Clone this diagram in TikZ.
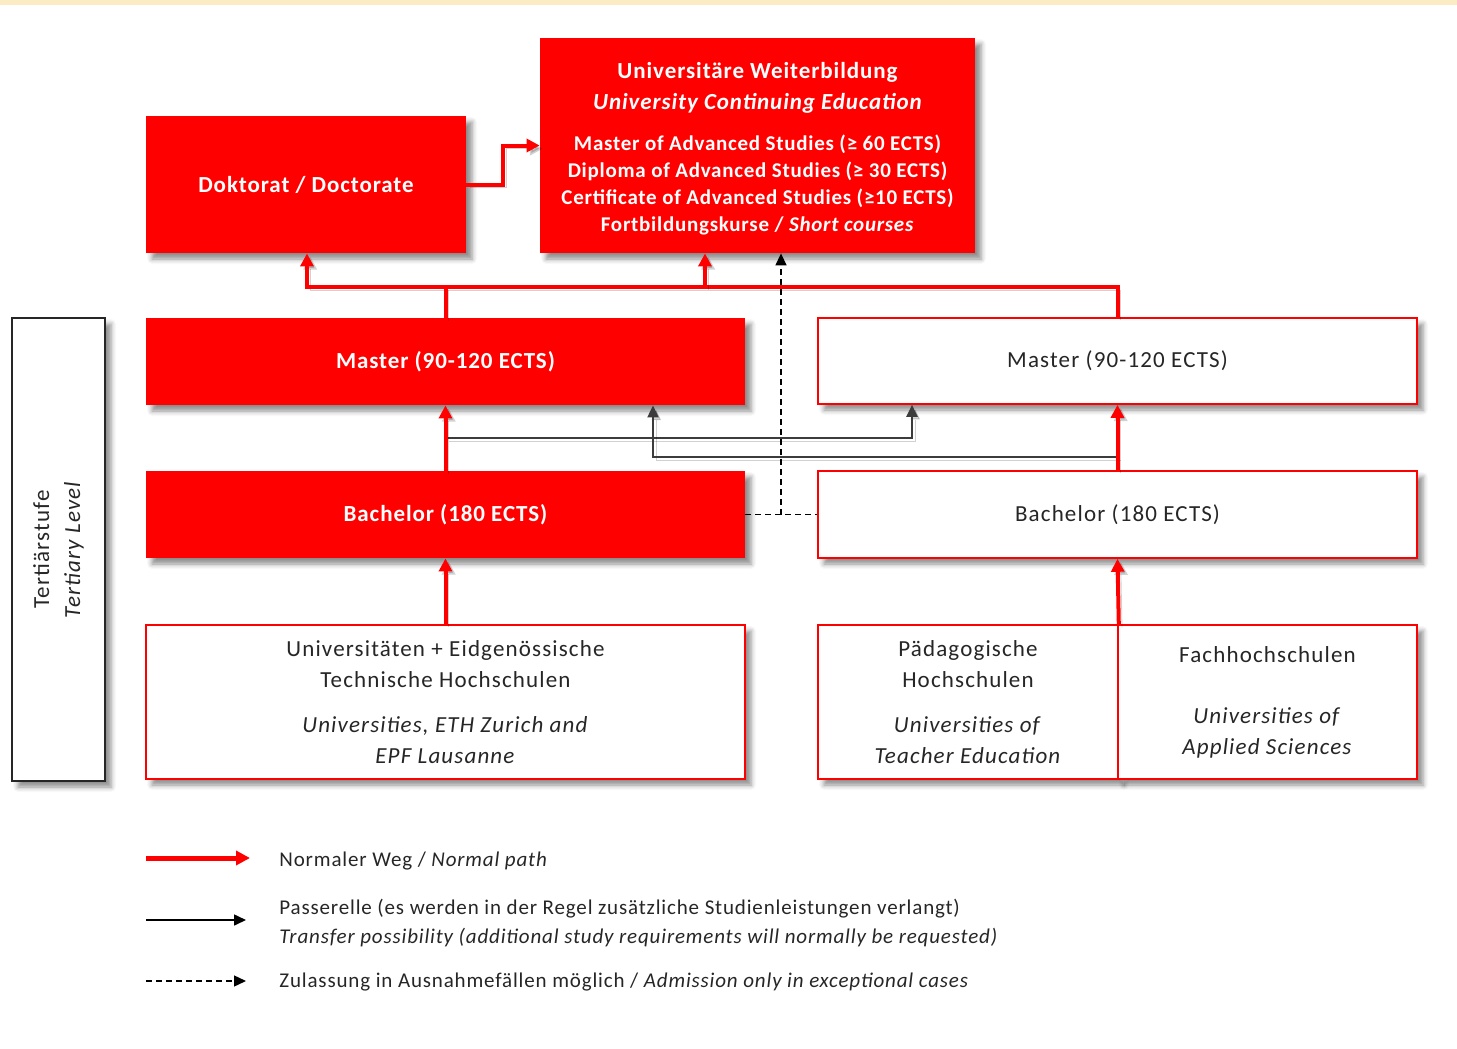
\documentclass[tikz,border=0pt]{standalone}
\usepackage{fontspec}
\setmainfont{Carlito}
\newfontfamily\lsfive[LetterSpace=5]{Carlito}
\newfontfamily\lsfour[LetterSpace=4]{Carlito}
\newfontfamily\lsthree[LetterSpace=3.5]{Carlito}
\usetikzlibrary{arrows.meta,shadows.blur}
\definecolor{dred}{RGB}{255,0,0}
\definecolor{dgray}{RGB}{60,60,60}
\definecolor{topstrip}{RGB}{252,236,196}
\begin{document}
\begin{tikzpicture}[x=0.5pt,y=-0.5pt,
  shad/.style={blur shadow={shadow xshift=3pt,shadow yshift=-3pt,shadow blur radius=2.5pt,shadow opacity=45}},
  lshad/.style={preaction={draw=black,opacity=0.18,transform canvas={shift={(1.6pt,-1.6pt)}}}},
  redbox/.style={shad,fill=dred,draw=none,text=white,font=\lsfour\fontsize{11.5}{15.5}\selectfont\bfseries,inner sep=0pt,align=center},
  whitebox/.style={shad,fill=white,draw=dred,line width=0.8pt,text=black!85,font=\lsfive\fontsize{11.5}{15.5}\selectfont,inner sep=0pt,align=center},
  redline/.style={lshad,draw=dred,line width=2pt},
  redarrow/.style={redline,-{Triangle[length=6.5pt,width=6.5pt]}},
  blkline/.style={lshad,draw=dgray,line width=1pt},
  blkarrow/.style={blkline,-{Triangle[length=6pt,width=5.5pt]}},
  dashline/.style={draw=black,line width=0.7pt,dash pattern=on 3pt off 2pt},
  dasharrow/.style={dashline,-{Triangle[length=6pt,width=5.5pt]}},
  legtext/.style={anchor=west,font=\lsfour\fontsize{10.5}{14.5}\selectfont,text=black!85,inner sep=0pt,align=left}]
\useasboundingbox (0,0) rectangle (1457,1049);
\fill[topstrip] (0,0) rectangle (1457,5);

% boxes
\node[redbox,minimum width=160pt,minimum height=68.5pt] (Dok) at (306,184.5) {Doktorat / Doctorate};
\node[redbox,minimum width=217.5pt,minimum height=107.5pt] (Weiter) at (757.5,145.5) {};
\node[text=white,inner sep=0pt,align=center,font=\lsthree\fontsize{10.5}{13.5}\selectfont\bfseries] (WeiterT) at (757.5,148.5)
  {{\lsfour\fontsize{11.5}{13.5}\selectfont\bfseries Universitäre Weiterbildung}\\[2pt]
   {\lsfour\fontsize{11.5}{13.5}\selectfont\bfseries\itshape University Continuing Education}\\[7pt]
   Master of Advanced Studies (≥ 60 ECTS)\\
   Diploma of Advanced Studies (≥ 30 ECTS)\\
   Certificate of Advanced Studies (≥10 ECTS)\\
   Fortbildungskurse / \textit{Short courses}};
\node[redbox,minimum width=299.5pt,minimum height=43.5pt] (MasterR) at (445.5,361.5) {Master (90-120 ECTS)};
\node[whitebox,minimum width=299.5pt,minimum height=43pt] (MasterW) at (1117.5,361) {Master (90-120 ECTS)};
\node[redbox,minimum width=299.5pt,minimum height=43.5pt] (BachR) at (445.5,514.5) {Bachelor (180 ECTS)};
\node[whitebox,minimum width=299.5pt,minimum height=43.5pt] (BachW) at (1117.5,514.5) {Bachelor (180 ECTS)};
\node[whitebox,minimum width=299.5pt,minimum height=77pt] (Uni) at (445.5,702)
  {Universitäten + Eidgenössische\\ Technische Hochschulen\\[7pt] \textit{Universities, ETH Zurich and}\\ \textit{EPF Lausanne}};
\node[whitebox,minimum width=150pt,minimum height=77pt] (Paed) at (968,702)
  {Pädagogische\\ Hochschulen\\[7pt] \textit{Universities of}\\ \textit{Teacher Education}};
\node[whitebox,minimum width=149.5pt,minimum height=77pt] (Fach) at (1267.5,702)
  {Fachhochschulen\\[15pt] \textit{Universities of}\\ \textit{Applied Sciences}};
\node[shad,fill=white,draw=black!85,line width=1pt,minimum width=46.5pt,minimum height=231.5pt,inner sep=0pt] (Left) at (58.5,549.5) {};
\node[rotate=90,align=center,font=\lsfive\fontsize{11.5}{15.5}\selectfont,text=black!85] (LeftT) at (Left.center) {Tertiärstufe\\ \textit{Tertiary Level}};

% coordinates
\coordinate (hL) at (307,287);
\coordinate (hW) at (705,287);
\coordinate (dX) at (781,515);
\coordinate (p1) at (446,438);
\coordinate (p2) at (1118,457);

% transfer connectors
\draw[blkarrow] (p1) -| (MasterW.south -| 912,0);
\draw[blkarrow] (p2) -| (MasterR.south -| 653,0);

% exceptional admission
\draw[dashline] (BachR.east) -- (BachW.west);
\draw[dasharrow] (dX) -- (Weiter.south -| dX);

% red connectors
\draw[redarrow] (Dok.east) -- ++(37,0) |- (Weiter.west);
\draw[redarrow] (MasterW.north) |- (hL) -- (Dok.south -| hL);
\draw[redline] (MasterR.north) -- (MasterR.north |- hL);
\draw[redarrow] (hW) -- (Weiter.south -| hW);
\draw[redarrow] (BachR.north) -- (MasterR.south);
\draw[redarrow] (Uni.north) -- (BachR.south);
\draw[redarrow] (Paed.north east) -- (BachW.south);
\draw[redarrow] (BachW.north) -- (MasterW.south);

% legend
\coordinate (l1a) at (146,858); \coordinate (l1b) at (250,858);
\coordinate (l2a) at (146,920); \coordinate (l2b) at (246,920);
\coordinate (l3a) at (146,981); \coordinate (l3b) at (246,981);
\draw[draw=dred,line width=2.5pt,-{Triangle[length=7pt,width=7pt]}] (l1a) -- (l1b);
\draw[draw=black,line width=0.8pt,-{Triangle[length=6pt,width=5.5pt]}] (l2a) -- (l2b);
\draw[dasharrow] (l3a) -- (l3b);
\node[legtext] (L1) at (279,861) {Normaler Weg / \textit{Normal path}};
\node[legtext] (L2) at (279,923) {Passerelle (es werden in der Regel zusätzliche Studienleistungen verlangt)\\ \textit{Transfer possibility (additional study requirements will normally be requested)}};
\node[legtext] (L3) at (279,982) {Zulassung in Ausnahmefällen möglich / \textit{Admission only in exceptional cases}};
\end{tikzpicture}
\end{document}
